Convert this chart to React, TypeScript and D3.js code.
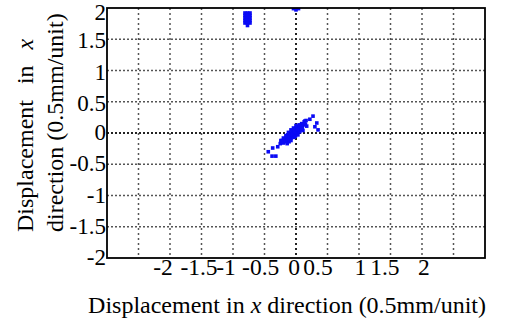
import React from "react";
import * as d3 from "d3";

const W = 515;
const H = 328;

const yTickValues = [2, 1.5, 1, 0.5, 0, -0.5, -1, -1.5, -2];
const yTickLabels = ["2", "1.5", "1", "0.5", "0", "-0.5", "-1", "-1.5", "-2"];
const xTickLabels = ["-2", "-1.5", "-1", "-0.5", "0", "0.5", "1", "1.5", "2"];
const xTickLabelPos = [-2.11, -1.54, -1.11, -0.56, -0.03, 0.35, 1.02, 1.41, 2.03];
const xGrid = [-2.5, -2, -1.5, -1, -0.5, 0, 0.5, 1, 1.5, 2, 2.5];
const yGrid = [-1.5, -1, -0.5, 0, 0.5, 1, 1.5];

// main cluster near origin
const clusterX = [
  -0.25, -0.22, -0.2, -0.18, -0.17, -0.15, -0.14, -0.13, -0.12, -0.11, -0.1, -0.09, -0.08, -0.07, -0.06,
  -0.05, -0.04, -0.03, -0.02, -0.01, 0.0, 0.0, 0.01, 0.02, 0.03, 0.04, 0.05, 0.06, 0.07, 0.08, 0.09, 0.1,
  0.12, 0.13, 0.15, 0.16, -0.1, -0.06, -0.02, 0.02, -0.16, -0.12, -0.08, -0.04, 0.0, -0.2, -0.24, -0.14,
  -0.08, -0.03, 0.03, 0.06, 0.11, -0.01, 0.05,
  -0.44, -0.38, -0.32, -0.37, -0.29, -0.22, 0.27, 0.22, 0.33, 0.3, 0.35, 0.17, 0.14,
];
const clusterY = [
  -0.17, -0.12, -0.16, -0.1, -0.14, -0.07, -0.12, -0.03, -0.09, -0.14, -0.05, 0.0, -0.08, -0.03, 0.03,
  -0.06, 0.0, 0.06, -0.03, 0.03, 0.08, -0.02, 0.05, 0.0, 0.1, 0.04, 0.08, 0.02, 0.12, 0.06, 0.15, 0.09,
  0.13, 0.18, 0.14, 0.2, -0.1, -0.02, 0.02, 0.06, -0.04, 0.01, 0.05, 0.08, 0.12, -0.08, -0.12, -0.17,
  -0.12, -0.07, -0.03, 0.11, 0.04, -0.05, 0.13,
  -0.3, -0.37, -0.37, -0.24, -0.22, -0.14, 0.27, 0.22, 0.16, 0.1, 0.05, 0.11, 0.19,
];
// stacked points near top-left
const topX = [-0.81, -0.77, -0.73, -0.81, -0.77, -0.73, -0.81, -0.77, -0.73, -0.81, -0.77, -0.73, -0.81, -0.77, -0.73, -0.77];
const topY = [1.92, 1.92, 1.92, 1.88, 1.88, 1.88, 1.84, 1.84, 1.84, 1.8, 1.8, 1.8, 1.76, 1.76, 1.76, 1.72];
// clipped points at the upper edge
const edgeX = [0.0, -0.04, 0.04, 0.0];
const edgeY = [1.97, 1.99, 1.99, 2.0];

const FONT = "'Liberation Serif', 'DejaVu Serif', serif";

export default function App() {
  const left = 107, right = 485, top = 8, bottom = 258;
  const x = d3.scaleLinear().domain([-3, 3]).range([left, right]);
  const y = d3.scaleLinear().domain([-2, 2]).range([bottom, top]);
  const pts: [number, number][] = [];
  clusterX.forEach((v, i) => pts.push([v, clusterY[i]]));
  topX.forEach((v, i) => pts.push([v, topY[i]]));
  edgeX.forEach((v, i) => pts.push([v, edgeY[i]]));
  const ms = 3.6;
  const ts = { fontFamily: FONT };
  return (
    <svg width={W} height={H} style={{ position: "absolute", left: 0, top: 0, background: "#fff", fontFamily: FONT }}>
      <defs>
        <clipPath id="plot">
          <rect x={left} y={top} width={right - left} height={bottom - top} />
        </clipPath>
      </defs>
      {yGrid.map((g) => (
        <line key={"hy" + g} x1={left} x2={right} y1={y(g)} y2={y(g)}
          stroke={g === 0 ? "#222" : "#555"} strokeWidth={g === 0 ? 2 : 1.3} strokeDasharray="2,2" />
      ))}
      {xGrid.map((g) => (
        <line key={"vx" + g} x1={x(g)} x2={x(g)} y1={top} y2={bottom}
          stroke={g === 0 ? "#222" : "#555"} strokeWidth={g === 0 ? 2 : 1.5} strokeDasharray="2,3" />
      ))}
      <g clipPath="url(#plot)">
        {pts.map((p, i) => (
          <rect key={i} x={x(p[0]) - ms / 2} y={y(p[1]) - ms / 2} width={ms} height={ms} fill="#0a0af5" />
        ))}
      </g>
      <rect x={left} y={top} width={right - left} height={bottom - top} fill="none" stroke="#000" strokeWidth={1.8} />
      {yTickValues.map((v, i) => (
        <text key={"yt" + i} style={ts} x={106} y={y(v) + 7 + (v === 2 ? 5 : v > 0.4 ? 2 : 0)} textAnchor="end" fontSize={23}>
          {yTickLabels[i]}
        </text>
      ))}
      {xTickLabels.map((t, i) => (
        <text key={"xt" + i} style={ts} x={x(xTickLabelPos[i])} y={275} textAnchor="middle" fontSize={23.5}>
          {t}
        </text>
      ))}
      <text style={ts} x={287} y={313} textAnchor="middle" fontSize={24}>
        Displacement in <tspan fontStyle="italic">x</tspan> direction (0.5mm/unit)
      </text>
      <g transform="translate(33,232) rotate(-90)">
        <text style={ts} x={0} y={0} textAnchor="start" fontSize={24} wordSpacing={10}>
          Displacement in <tspan fontStyle="italic">x</tspan>
        </text>
      </g>
      <g transform="translate(63,232) rotate(-90)">
        <text style={ts} x={0} y={0} textAnchor="start" fontSize={24}>
          direction (0.5mm/unit)
        </text>
      </g>
    </svg>
  );
}
